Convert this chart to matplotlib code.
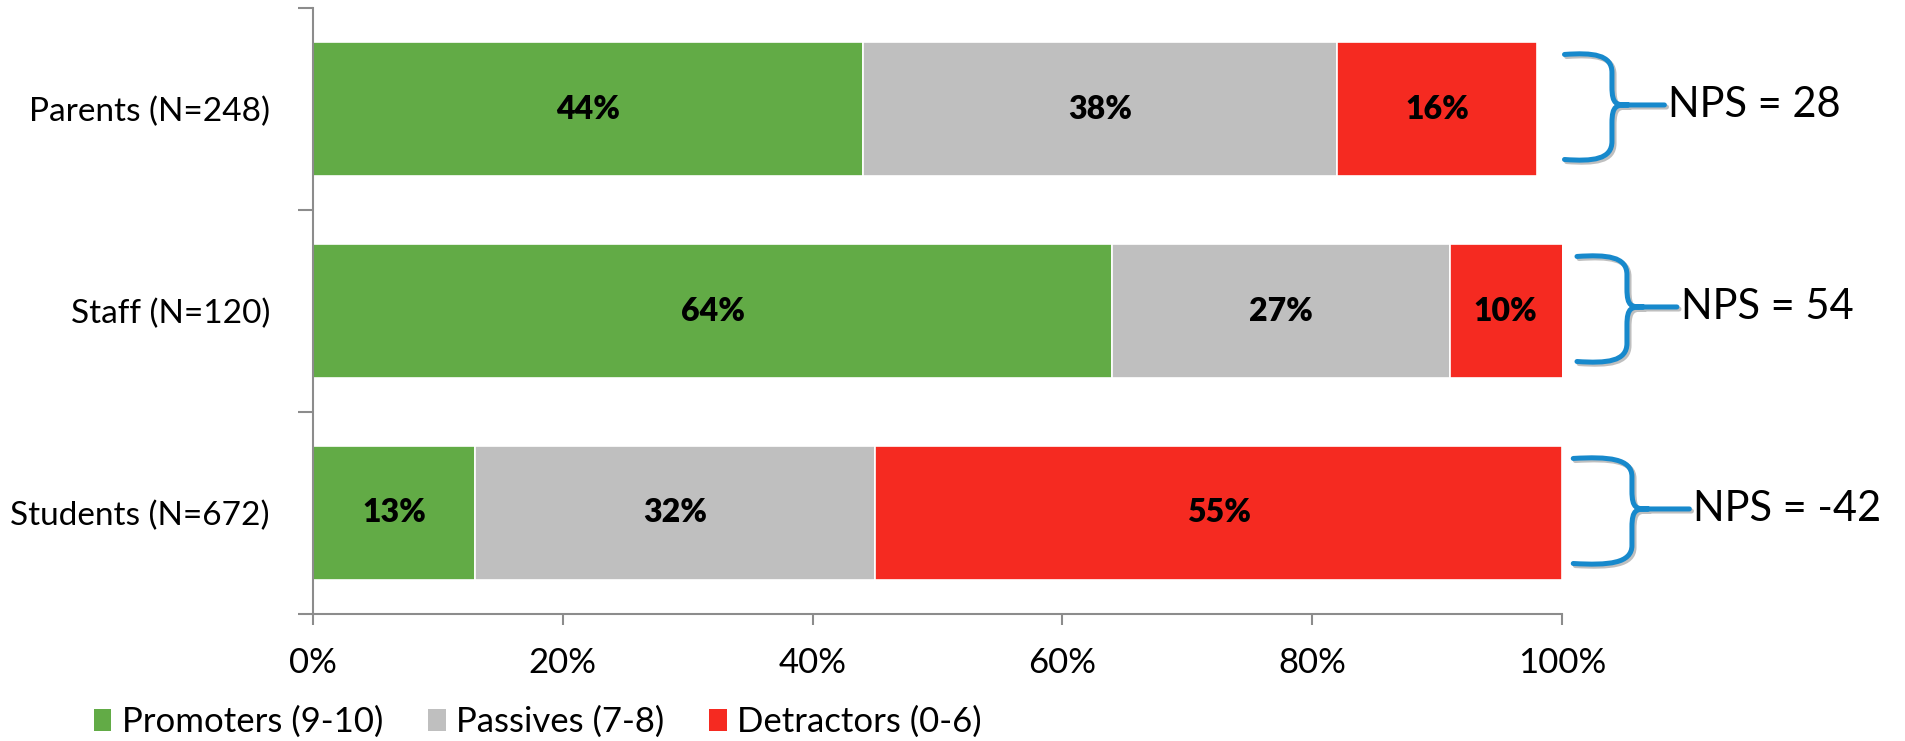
import matplotlib
matplotlib.use("Agg")
import matplotlib.pyplot as plt
from matplotlib.path import Path
from matplotlib.patches import PathPatch, Patch
import matplotlib.patheffects as pe

categories = ["Parents (N=248)", "Staff (N=120)", "Students (N=672)"]
series_names = ["Promoters (9-10)", "Passives (7-8)", "Detractors (0-6)"]
promoters = [44, 64, 13]
passives = [38, 27, 32]
detractors = [16, 10, 55]
nps_values = [28, 54, -42]
x_ticks = [0, 20, 40, 60, 80, 100]
x_tick_labels = ["0%", "20%", "40%", "60%", "80%", "100%"]

colors = ["#62AB46", "#BFBFBF", "#F52A21"]
brace_color = "#1789CC"
spine_color = "#8C8C8C"

plt.rcParams["font.family"] = ["Lato", "DejaVu Sans"]

fig = plt.figure(figsize=(19.06, 7.41), dpi=100)
ax = fig.add_axes([313 / 1906, 1 - 614 / 741, (1562 - 313) / 1906, (614 - 8) / 741])

ypos = list(range(len(categories)))
series = [promoters, passives, detractors]
left = [0.0] * len(categories)
for vals, col, name in zip(series, colors, series_names):
    ax.barh(ypos, vals, left=left, height=0.66, color=col, edgecolor="white",
            linewidth=1.2, label=name)
    for i, (l, v) in enumerate(zip(left, vals)):
        right = min(l + v, 100)
        ax.text((l + right) / 2, i, f"{v}%", ha="center", va="center",
                fontsize=23, fontweight="heavy", color="black")
    left = [l + v for l, v in zip(left, vals)]

ax.set_xlim(0, 100)
ax.set_ylim(2.5, -0.5)

# axes styling
for s in ["top", "right"]:
    ax.spines[s].set_visible(False)
for s in ["left", "bottom"]:
    ax.spines[s].set_color(spine_color)
    ax.spines[s].set_linewidth(1.5)

ax.set_xticks(x_ticks)
ax.set_xticklabels(x_tick_labels, fontsize=25)
ax.tick_params(axis="x", length=8, width=1.5, color=spine_color, pad=16)

ax.set_yticks([-0.5, 0.5, 1.5, 2.5])
ax.set_yticklabels([])
ax.tick_params(axis="y", which="major", length=11, width=1.5, color=spine_color)
ax.set_yticks(ypos, minor=True)
ax.set_yticklabels(categories, minor=True, fontsize=24)
ax.tick_params(axis="y", which="minor", length=0, pad=31)

# braces with NPS labels
brace_x0 = [100.2, 101.2, 100.9]
brace_xv = [104.0, 105.2, 105.6]
brace_xc = [108.2, 109.2, 110.2]
brace_half = 0.26
for i, nps in enumerate(nps_values):
    x0, xv, xc = brace_x0[i], brace_xv[i], brace_xc[i]
    top, bot, cy = i - brace_half - 0.01, i + brace_half - 0.01, i - 0.02
    d = 0.09
    e = 1.3
    verts = [
        (x0, top), (x0 + (xv - x0) * 0.6, top - 0.01), (xv, top), (xv, top + d),
        (xv, cy - d),
        (xv, cy), (xv + e * 0.3, cy), (xv + e, cy),
        (xc, cy),
        (xv + e, cy),
        (xv + e * 0.3, cy), (xv, cy), (xv, cy + d),
        (xv, bot - d),
        (xv, bot), (x0 + (xv - x0) * 0.6, bot + 0.01), (x0, bot),
    ]
    codes = [
        Path.MOVETO, Path.CURVE4, Path.CURVE4, Path.CURVE4,
        Path.LINETO,
        Path.CURVE4, Path.CURVE4, Path.CURVE4,
        Path.LINETO,
        Path.MOVETO,
        Path.CURVE4, Path.CURVE4, Path.CURVE4,
        Path.LINETO,
        Path.CURVE4, Path.CURVE4, Path.CURVE4,
    ]
    patch = PathPatch(Path(verts, codes), fill=False, edgecolor=brace_color,
                      linewidth=3.6, capstyle="round", joinstyle="round",
                      clip_on=False, transform=ax.transData)
    patch.set_path_effects([pe.SimpleLineShadow(offset=(1.5, -1.5), alpha=0.25),
                            pe.Normal()])
    ax.add_patch(patch)
    ax.text(xc + 0.3, cy, f"NPS = {nps}", ha="left", va="center",
            fontsize=30, color="black", clip_on=False)

handles = [Patch(facecolor=c, edgecolor="none") for c in colors]
fig.legend(handles, series_names, loc="center left",
           bbox_to_anchor=(87 / 1906, 1 - 722 / 741), ncol=3, frameon=False,
           fontsize=25, handlelength=0.5, handleheight=0.6, handletextpad=0.3,
           columnspacing=1.3, borderaxespad=0.0, borderpad=0.2)

fig.savefig("out.png", dpi=100)
